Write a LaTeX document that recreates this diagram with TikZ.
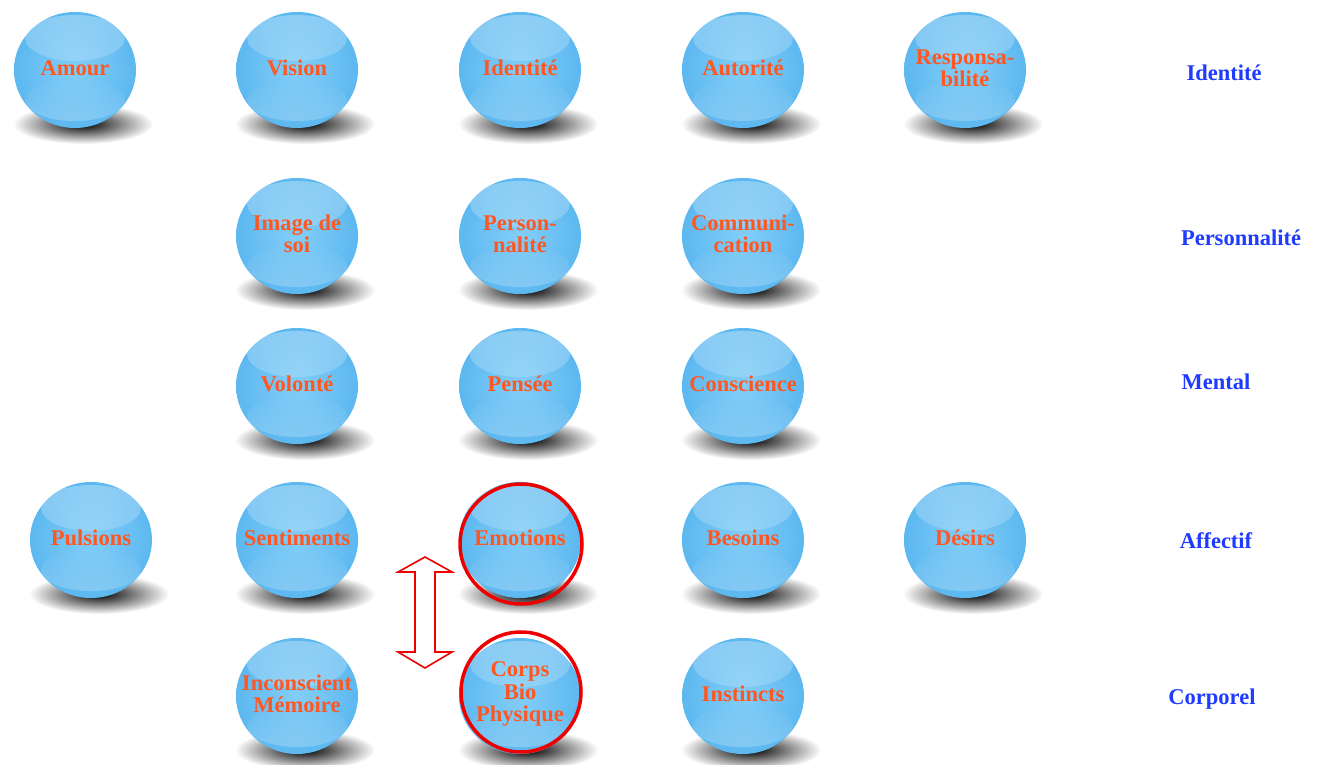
\documentclass[tikz,border=0pt]{standalone}
\usepackage{fontspec}
\setmainfont{Liberation Serif}
\usetikzlibrary{shapes.geometric,fadings}
\definecolor{txtorange}{HTML}{FF5722}
\definecolor{lblblue}{HTML}{1F3BFF}
\definecolor{ballin}{HTML}{84CEF8}
\definecolor{ballout}{HTML}{5CB8F0}
\definecolor{ringred}{HTML}{EE0000}
\tikzfading[name=shfade, inner color=transparent!0, outer color=transparent!100]
\tikzfading[name=softtop, top color=transparent!0, bottom color=transparent!100]
\tikzset{
  ball/.style={ellipse, minimum width=122pt, minimum height=116pt, inner sep=0pt,
    inner color=ballin, outer color=ballout,
    path picture={
      \fill[white, path fading=south, fill opacity=.3]
        ([yshift=32pt]path picture bounding box.center) ellipse (50pt and 23pt);
      \fill[white, path fading=north, fill opacity=.22]
        ([yshift=-30pt]path picture bounding box.center) ellipse (50pt and 21pt);
    }},
  balltext/.style={align=center, text=txtorange, inner sep=0pt,
    font=\fontsize{22.5}{22.5}\selectfont\bfseries},
  ballshadow/.style={fill=black, path fading=shfade},
  lbl/.style={text=lblblue, font=\fontsize{22.5}{22}\selectfont\bfseries},
  ring/.style={draw=ringred, line width=3.5pt},
  dblarrow/.style={draw=ringred, line width=1.6pt, fill=white, line join=miter}
}
\newcommand{\ballat}[4]{%
  \fill[ballshadow] (#2+8,#3-54) ellipse (70 and 20);
  \node[ball] (#1) at (#2,#3) {};
  \node[balltext] (#1-t) at ([yshift=2pt]#1.center) {#4};
}
\begin{document}
\begin{tikzpicture}[x=1pt,y=1pt]
\useasboundingbox (0,0) rectangle (1318,764);
\fill[white] (0,0) rectangle (1318,764);
% row 1
\ballat{amour}{75}{694}{Amour}
\ballat{vision}{297}{694}{Vision}
\ballat{identite}{520}{694}{Identité}
\ballat{autorite}{743}{694}{Autorité}
\ballat{respons}{965}{694}{Responsa-\\bilité}
% row 2
\ballat{image}{297}{528}{Image de\\soi}
\ballat{person}{520}{528}{Person-\\nalité}
\ballat{commun}{743}{528}{Communi-\\cation}
% row 3
\ballat{volonte}{297}{378}{Volonté}
\ballat{pensee}{520}{378}{Pensée}
\ballat{conscience}{743}{378}{Conscience}
% row 4
\ballat{pulsions}{91}{224}{Pulsions}
\ballat{sentiments}{297}{224}{Sentiments}
\ballat{emotions}{520}{224}{Emotions}
\ballat{besoins}{743}{224}{Besoins}
\ballat{desirs}{965}{224}{Désirs}
% row 5
\ballat{inconscient}{297}{68}{Inconscient\\Mémoire}
\ballat{corps}{520}{68}{Corps\\Bio\\Physique}
\ballat{instincts}{743}{68}{Instincts}
% red rings
\draw[ring] ([xshift=1pt,yshift=-4pt]emotions.center) ellipse (61 and 60);
\draw[ring] ([xshift=1pt,yshift=4pt]corps.center) ellipse (60 and 60);
% double arrow
\coordinate (arrtop) at (425,207);
\coordinate (arrbot) at (425,96);
\draw[dblarrow] (arrtop) -- (452,192) -- (435,192) -- (435,112) -- (452,112) -- (arrbot)
  -- (398,112) -- (415,112) -- (415,192) -- (398,192) -- cycle;
% level labels
\node[lbl] (lidentite) at (1224,691) {Identité};
\node[lbl] (lperson) at (1241,526) {Personnalité};
\node[lbl] (lmental) at (1216,382) {Mental};
\node[lbl] (laffectif) at (1216,223) {Affectif};
\node[lbl] (lcorporel) at (1212,65) {Corporel};
\end{tikzpicture}
\end{document}
